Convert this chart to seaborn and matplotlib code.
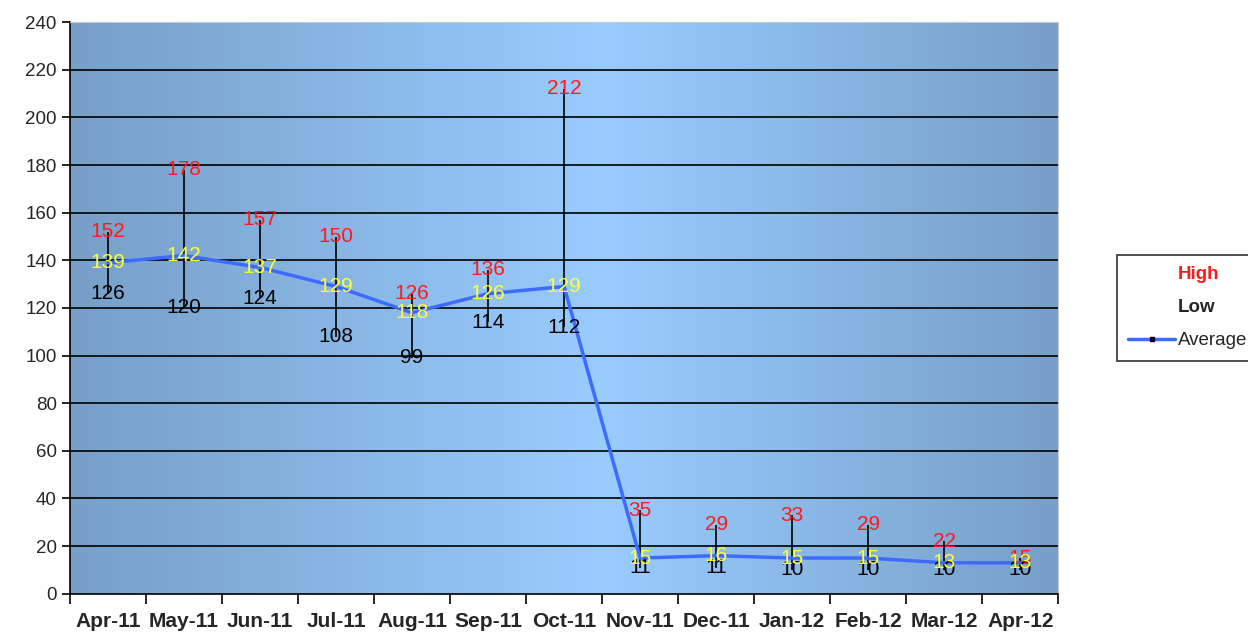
import numpy as np
import pandas as pd
import matplotlib
matplotlib.use("Agg")
import matplotlib.pyplot as plt
from matplotlib.colors import LinearSegmentedColormap
from matplotlib.lines import Line2D
import seaborn as sns

# %% Data ----
months = ['Apr-11', 'May-11', 'Jun-11', 'Jul-11', 'Aug-11', 'Sep-11', 'Oct-11',
          'Nov-11', 'Dec-11', 'Jan-12', 'Feb-12', 'Mar-12', 'Apr-12']
high = [152, 178, 157, 150, 126, 136, 212, 35, 29, 33, 29, 22, 15]
low = [126, 120, 124, 108, 99, 114, 112, 11, 11, 10, 10, 10, 10]
average = [139, 142, 137, 129, 118, 126, 129, 15, 16, 15, 15, 13, 13]

df = pd.DataFrame({'month': months, 'high': high, 'low': low, 'average': average})
df['pos'] = np.arange(len(df))

# %% Style ----
sns.set_style('white')
plt.rcParams['font.family'] = ['Liberation Sans', 'DejaVu Sans']

fig = plt.figure(figsize=(12.48, 6.33), dpi=100)
ax = fig.add_axes([0.056, 0.062, 0.792, 0.903])

# gradient background
grad = LinearSegmentedColormap.from_list(
    'bg', [(0.0, '#779fc8'), (0.54, '#99ccff'), (1.0, '#779fc8')])
ax.imshow(np.linspace(0, 1, 256).reshape(1, -1), cmap=grad, aspect='auto',
          extent=[-0.5, len(df) - 0.5, 0, 240], zorder=0)

# grid
for y in range(20, 241, 20):
    ax.axhline(y, color='black', lw=1.2, zorder=1)

# high-low lines
ax.vlines(df['pos'], df['low'], df['high'], color='black', lw=1.2, zorder=2)

# average line
sns.lineplot(data=df, x='pos', y='average', color='#3d6bff', lw=2.5, ax=ax,
             zorder=3, legend=False)

# labels
for _, r in df.iterrows():
    ax.text(r['pos'], r['high'], str(r['high']), color='#ff1a1a', fontsize=15,
            ha='center', va='center', zorder=4)
    ax.text(r['pos'], r['low'], str(r['low']), color='black', fontsize=15,
            ha='center', va='center', zorder=4)
    ax.text(r['pos'], r['average'], str(r['average']), color='#ffff33', fontsize=15,
            ha='center', va='center', zorder=5)

ax.set_xlim(-0.5, len(df) - 0.5)
ax.set_ylim(0, 240)
ax.set_yticks(range(0, 241, 20))
ax.set_xticks(df['pos'])
ax.set_xticklabels(months, fontweight='bold', fontsize=15)
ax.set_xticks(np.arange(-0.5, len(df)), minor=True)
ax.tick_params(axis='x', which='major', length=0, pad=13)
ax.tick_params(axis='x', which='minor', length=7, width=1.2, color='black',
               direction='out', bottom=True)
ax.tick_params(axis='y', length=6, width=1.2, color='black', direction='out',
               left=True, labelsize=13.5)
ax.set_xlabel('')
ax.set_ylabel('')
for s in ['left', 'bottom']:
    ax.spines[s].set_color('black')
    ax.spines[s].set_linewidth(1.2)
for s in ['top', 'right']:
    ax.spines[s].set_color('#c8c8c8')
    ax.spines[s].set_linewidth(0.8)

# legend
handles = [Line2D([], [], color='none'),
           Line2D([], [], color='none'),
           Line2D([], [], color='#3d6bff', lw=2.5, marker='s', markersize=3,
                  markerfacecolor='black', markeredgecolor='black')]
leg = fig.legend(handles, ['High', 'Low', 'Average'], loc='center left',
                 bbox_to_anchor=(0.895, 0.514), frameon=True, fancybox=False,
                 edgecolor='black', fontsize=13.5, handlelength=2.5,
                 handletextpad=0.15, labelspacing=0.85, borderpad=0.6,
                 borderaxespad=0.0)
leg.get_frame().set_linewidth(1.2)
txt = leg.get_texts()
txt[0].set_color('#ff1a1a')
txt[0].set_fontweight('bold')
txt[1].set_fontweight('bold')

fig.savefig('out.png', dpi=100)
